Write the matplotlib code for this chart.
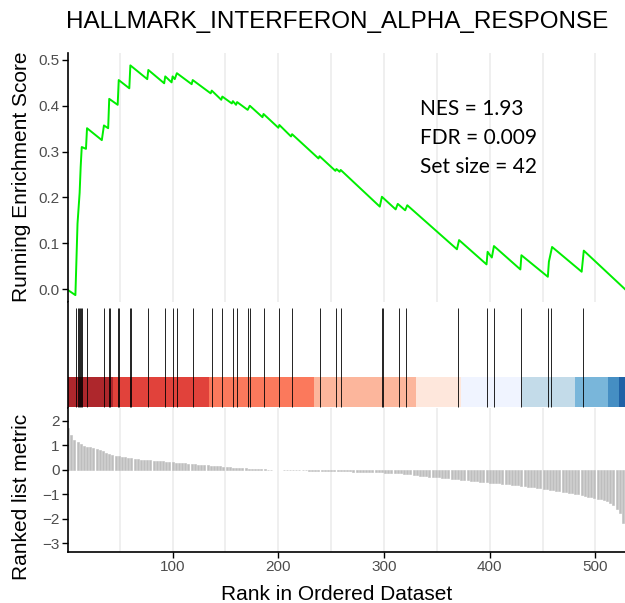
import matplotlib
matplotlib.use('Agg')
import matplotlib.pyplot as plt
import numpy as np

plt.rcParams['font.family'] = ['Liberation Sans', 'DejaVu Sans']

# running enrichment score, vertices (rank, score)
es_rank = [1, 8, 10, 12, 13, 14, 18, 19, 33, 35, 39, 40, 48, 49, 59, 60, 76, 77, 92, 93,
           99, 100, 102, 104, 118, 119, 136, 137, 146, 147, 156, 157, 160, 161, 171, 173,
           185, 186, 200, 201, 212, 213, 238, 239, 254, 255, 258, 259, 296, 298, 311, 313,
           320, 322, 369, 371, 397, 398, 402, 404, 429, 430, 455, 456, 459, 487, 489, 528]
es_val = [-0.002, -0.013, 0.143, 0.21, 0.267, 0.31, 0.306, 0.351, 0.325, 0.357, 0.351, 0.415,
          0.402, 0.456, 0.438, 0.488, 0.458, 0.478, 0.449, 0.464, 0.451, 0.464, 0.458, 0.471,
          0.447, 0.456, 0.427, 0.433, 0.413, 0.42, 0.405, 0.41, 0.402, 0.408, 0.391, 0.40,
          0.375, 0.382, 0.352, 0.358, 0.333, 0.338, 0.285, 0.29, 0.258, 0.262, 0.256, 0.26,
          0.18, 0.2015, 0.174, 0.186, 0.172, 0.183, 0.087, 0.107, 0.054, 0.0815, 0.069, 0.094,
          0.043, 0.074, 0.027, 0.06, 0.092, 0.038, 0.084, 0.0]

# gene set hits (ranks)
hits = [9, 10, 11, 12, 13, 14, 19, 35, 40, 41, 48, 49, 60, 61, 77, 93, 100, 104, 119, 137,
        147, 157, 161, 171, 173, 186, 201, 213, 239, 255, 259, 298, 299, 314, 321, 370,
        397, 404, 430, 455, 458, 488]

# colour band segments
band_start = [1, 44, 134, 234, 330, 373, 431, 481, 512, 522]
band_end = [44, 134, 234, 330, 373, 431, 481, 512, 522, 528]
band_col = ['#A50F15', '#DE2D26', '#FB6A4A', '#FCAE91', '#FEE5D9',
            '#EFF3FF', '#BDD7E7', '#6BAED6', '#3182BD', '#08519C']

# ranked list metric, every 3rd rank
metric_rank = np.arange(1, 529, 3)
metric = [1.70, 1.40, 1.22, 1.12, 1.05, 0.99, 0.95, 0.91, 0.88, 0.84,
          0.80, 0.75, 0.70, 0.65, 0.61, 0.57, 0.55, 0.53, 0.51, 0.49,
          0.47, 0.45, 0.44, 0.42, 0.41, 0.40, 0.39, 0.37, 0.36, 0.35,
          0.34, 0.33, 0.32, 0.30, 0.29, 0.28, 0.27, 0.26, 0.25, 0.235,
          0.22, 0.21, 0.20, 0.19, 0.185, 0.17, 0.16, 0.15, 0.14, 0.135,
          0.13, 0.11, 0.09, 0.08, 0.075, 0.065, 0.06, 0.05, 0.04, 0.03,
          0.025, 0.02, 0.015, 0.01, 0.005, 0.0, 0.0, 0.0, -0.005, -0.01,
          -0.01, -0.01, -0.015, -0.02, -0.02, -0.025, -0.03, -0.03, -0.035, -0.04,
          -0.04, -0.045, -0.05, -0.05, -0.05, -0.055, -0.055, -0.06, -0.06, -0.065,
          -0.07, -0.07, -0.075, -0.075, -0.08, -0.08, -0.085, -0.09, -0.095, -0.10,
          -0.11, -0.115, -0.12, -0.13, -0.14, -0.15, -0.165, -0.18, -0.19, -0.21,
          -0.225, -0.24, -0.255, -0.265, -0.275, -0.285, -0.295, -0.305, -0.32, -0.335,
          -0.35, -0.36, -0.37, -0.385, -0.40, -0.41, -0.425, -0.44, -0.45, -0.465,
          -0.48, -0.495, -0.51, -0.525, -0.535, -0.545, -0.555, -0.565, -0.575, -0.59,
          -0.605, -0.62, -0.635, -0.65, -0.67, -0.69, -0.705, -0.72, -0.74, -0.76,
          -0.78, -0.80, -0.82, -0.84, -0.855, -0.87, -0.89, -0.91, -0.93, -0.95,
          -0.97, -1.00, -1.03, -1.06, -1.09, -1.11, -1.14, -1.17, -1.20, -1.24,
          -1.29, -1.35, -1.44, -1.58, -1.76, -2.15]

stats = ['NES = 1.93', 'FDR = 0.009', 'Set size = 42']

W, H = 625, 603
fig = plt.figure(figsize=(W / 100, H / 100), dpi=100)
L = 68 / W
ax1 = fig.add_axes([L, 1 - 302 / H, 1 - L, 249 / H])
ax2 = fig.add_axes([L, 1 - 408 / H, 1 - L, 106 / H])
ax3 = fig.add_axes([L, 1 - 552 / H, 1 - L, 144 / H])

grid_x = range(50, 528, 50)
tick_col = '#4d4d4d'

# top: running score
for g in grid_x:
    ax1.axvline(g, color='#ebebeb', lw=1.1, zorder=0)
ax1.plot(es_rank, es_val, color='#00ee00', lw=1.4)
ax1.set_xlim(1, 528)
ax1.set_ylim(-0.028, 0.515)
ax1.set_xticks([])
ax1.set_yticks([0.0, 0.1, 0.2, 0.3, 0.4, 0.5])
ax1.set_yticklabels(['0.0', '0.1', '0.2', '0.3', '0.4', '0.5'])
for y, s in zip([0.379, 0.3155, 0.254], stats):
    ax1.text(334, y, s, fontsize=15, family=['Lato', 'DejaVu Sans'], va='baseline', color='black')

# middle: hits and colour band
ax2.vlines(hits, 0, 1, color='black', lw=0.6)
ax2.bar(band_start, 0.3, width=np.array(band_end) - np.array(band_start), align='edge',
        color=band_col, alpha=0.9, linewidth=0)
ax2.set_xlim(1, 528)
ax2.set_ylim(-0.01, 1.06)
ax2.set_xticks([])
ax2.set_yticks([])

# bottom: ranked list metric
for g in grid_x:
    ax3.axvline(g, color='#ebebeb', lw=1.1, zorder=0)
edge = ['#bebebe' if v != 0 else 'none' for v in metric]
ax3.bar(metric_rank, metric, width=1.9, color='#bebebe', edgecolor=edge, linewidth=0.4)
ax3.set_xlim(1, 528)
ax3.set_ylim(-3.35, 2.52)
ax3.set_xticks([100, 200, 300, 400, 500])
ax3.set_yticks([-3, -2, -1, 0, 1, 2])

for ax in (ax1, ax2, ax3):
    for sp in ('top', 'right'):
        ax.spines[sp].set_visible(False)
    ax.spines['left'].set_linewidth(1.2)
    ax.tick_params(axis='both', labelsize=11, labelcolor=tick_col, length=4, width=1.0,
                   color='black', pad=2)
ax1.spines['bottom'].set_visible(False)
ax2.spines['bottom'].set_visible(False)
ax3.spines['bottom'].set_linewidth(1.2)

fig.text(22 / W, 1 - 177 / H, 'Running Enrichment Score', rotation=90, fontsize=15,
         ha='center', va='center')
fig.text(22 / W, 1 - 497 / H, 'Ranked list metric', rotation=90, fontsize=15,
         ha='center', va='center')
fig.text(337 / W, 1 - 594 / H, 'Rank in Ordered Dataset', fontsize=15,
         ha='center', va='center')
fig.text(337 / W, 1 - 22 / H, 'HALLMARK_INTERFERON_ALPHA_RESPONSE', fontsize=17.5,
         ha='center', va='center')

fig.savefig('out.png', dpi=100)
